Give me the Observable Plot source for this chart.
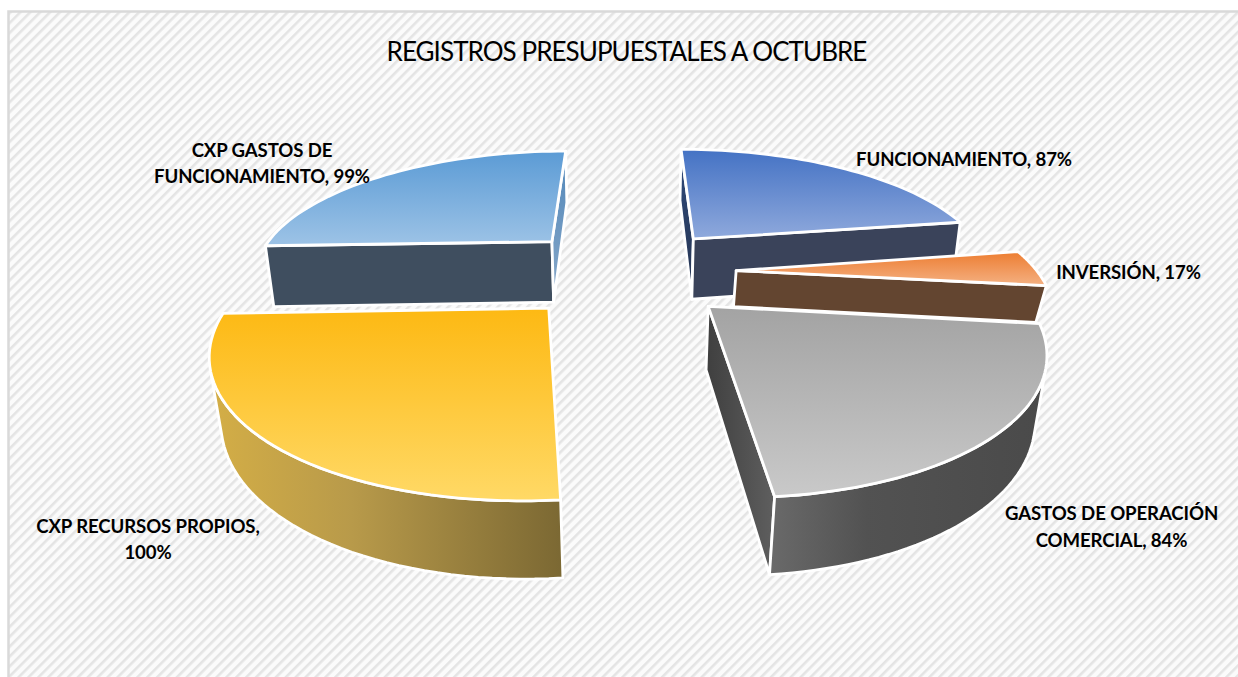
<!DOCTYPE html>
<html lang="es">
<head>
<meta charset="utf-8">
<title>Registros presupuestales a octubre</title>
<script src="https://cdn.jsdelivr.net/npm/d3@7"></script>
<script src="https://cdn.jsdelivr.net/npm/@observablehq/plot@0.6"></script>
<style>
html,body{margin:0;padding:0;background:#fff;overflow:hidden}
.chart-title text{letter-spacing:-0.94px}
.chart-label text{letter-spacing:-0.1px}
</style>
</head>
<body>
<div id="chart"></div>
<script>
// ---- data ----
const chartTitle = "REGISTROS PRESUPUESTALES A OCTUBRE";
const categories = ["FUNCIONAMIENTO", "INVERSIÓN", "GASTOS DE OPERACIÓN COMERCIAL", "CXP RECURSOS PROPIOS", "CXP GASTOS DE FUNCIONAMIENTO"];
const values = [87, 17, 84, 100, 99];
const labelLines = [
  "FUNCIONAMIENTO, 87%",
  "INVERSIÓN, 17%",
  "GASTOS DE OPERACIÓN\nCOMERCIAL, 84%",
  "CXP RECURSOS PROPIOS,\n100%",
  "CXP GASTOS DE\nFUNCIONAMIENTO, 99%"
];

// ---- layout (3D view of the pie) ----
const W = 1238, H = 677;
const view = {cx: 626, cy: 271, ax: 301, bz: 125, persp: 0.24, drop: 0.025, explode: 0.365};
const sliceDepth = [65, 37, 62, 62, 65];
const labelX = [963.5, 1128, 1111, 147.5, 261.5];
const labelY = [157.5, 270, 524.5, 537, 161];
const paintOrder = [4, 0, 1, 3, 2];
const topFill = ["url(#t0)", "url(#t1)", "url(#t2)", "url(#t3)", "url(#t4)"];
const endFace = ["#3a435a", "#634530", "url(#s2)", "#8a7536", "url(#s4)"];
const startFaceFill = ["url(#s0)", "#634530", "url(#s2b)", "#8a7536", "#3f4e5f"];
const arcFill = ["#3a435a", "#634530", "url(#a2)", "url(#a3)", "#3f4e5f"];

function project(X, Z, depth, t) {
  const w = 1 + view.persp * Z + view.drop * t;
  return {
    x: view.cx + view.ax * X / w,
    y: view.cy + (-view.bz * Z + depth * t) / w
  };
}

const arcs = d3.pie().sort(null)(values);
const signedArea = pts => d3.polygonArea(pts.map(p => [p.x, p.y]));

function sliceFaces(i) {
  const a = arcs[i], d = sliceDepth[i];
  const mid = (a.startAngle + a.endAngle) / 2;
  const ox = view.explode * Math.sin(mid), oz = view.explode * Math.cos(mid);
  const n = 48;
  const thetas = d3.range(n + 1).map(k => a.startAngle + (a.endAngle - a.startAngle) * k / n);
  const world = thetas.map(t => [ox + Math.sin(t), oz + Math.cos(t)]);
  const top = world.map(([X, Z]) => project(X, Z, d, 0));
  const bot = world.map(([X, Z]) => project(X, Z, d, 1));
  const apexT = project(ox, oz, d, 0), apexB = project(ox, oz, d, 1);
  const faces = [];
  const startQuad = [apexT, top[0], bot[0], apexB];
  if (signedArea(startQuad) > 0) faces.push({pts: startQuad, fill: startFaceFill[i]});
  const endQuad = [apexT, apexB, bot[n], top[n]];
  if (signedArea(endQuad) > 0) faces.push({pts: endQuad, fill: endFace[i]});
  // outer rim: only the segments that face the viewer
  const vis = d3.range(n).filter(k => signedArea([top[k], top[k + 1], bot[k + 1], bot[k]]) > 0);
  if (vis.length) {
    const idx = [...vis, vis[vis.length - 1] + 1];
    faces.push({pts: [...idx.map(k => top[k]), ...idx.slice().reverse().map(k => bot[k])], fill: arcFill[i]});
  }
  faces.push({pts: [apexT, ...top], fill: topFill[i]});
  return faces;
}

const gradient = (id, horizontal, stops) =>
  `<linearGradient id="${id}" x1="0" y1="0" x2="${horizontal ? 1 : 0}" y2="${horizontal ? 0 : 1}">` +
  stops.map(([o, c]) => `<stop offset="${o}" stop-color="${c}"/>`).join("") + `</linearGradient>`;

const defs = () => {
  const g = d3.create("svg:defs");
  g.html(
    `<pattern id="hatch" width="7" height="7" patternUnits="userSpaceOnUse" patternTransform="rotate(-45)">
       <rect width="7" height="7" fill="#fbfbfb"/><rect width="7" height="2.6" fill="#e4e4e4"/>
     </pattern>` +
    gradient("t0", false, [[0, "#4472c4"], [1, "#8fa9dc"]]) +
    gradient("t1", false, [[0, "#ed7d31"], [1, "#f4b183"]]) +
    gradient("t2", false, [[0, "#a3a3a3"], [1, "#c9c9c9"]]) +
    gradient("t3", false, [[0, "#fdb913"], [1, "#ffd966"]]) +
    gradient("t4", false, [[0, "#5b9bd5"], [1, "#9dc3e6"]]) +
    gradient("s0", false, [[0, "#2f4a7c"], [1, "#26344f"]]) +
    gradient("s2", true, [[0, "#3f3f3f"], [1, "#5f5f5f"]]) +
    gradient("s2b", true, [[0, "#404040"], [1, "#606060"]]) +
    gradient("s4", false, [[0, "#4f86b9"], [1, "#8aa9c9"]]) +
    gradient("a2", true, [[0, "#6a6a6a"], [0.35, "#525252"], [1, "#4a4a4a"]]) +
    gradient("a3", true, [[0, "#d4ae46"], [0.4, "#b89a4a"], [1, "#7b6833"]])
  );
  return g.node();
};

const faceMarks = paintOrder.flatMap(i =>
  sliceFaces(i).map(f => Plot.line(f.pts, {
    x: "x", y: "y", curve: "linear-closed",
    fill: f.fill, stroke: "#ffffff", strokeWidth: 2.8, strokeLinejoin: "round"
  }))
);

const labels = labelLines.map((text, i) => ({text, x: labelX[i], y: labelY[i]}));

const plot = Plot.plot({
  width: W, height: H,
  margin: 0,
  x: {domain: [0, W], range: [0, W], axis: null},
  y: {domain: [0, H], range: [0, H], axis: null},
  style: {background: "#fff", fontFamily: "Lato, sans-serif"},
  marks: [
    defs,
    Plot.frame({fill: "url(#hatch)", stroke: "#d9d9d9", strokeWidth: 2.5, insetLeft: 8, insetTop: 11, insetRight: -6, insetBottom: -6}),
    ...faceMarks,
    Plot.text([chartTitle], {
      x: () => 626, y: () => 52, text: d => d, className: "chart-title",
      fontSize: 26, fill: "#000", fontFamily: "Lato, sans-serif"
    }),
    Plot.text(labels, {
      x: "x", y: "y", text: "text", fontSize: 18.6, fontWeight: 700, lineHeight: 1.42, className: "chart-label",
      fill: "#000", fontFamily: "Lato, sans-serif"
    })
  ]
});
document.getElementById("chart").appendChild(plot);
</script>
</body>
</html>
